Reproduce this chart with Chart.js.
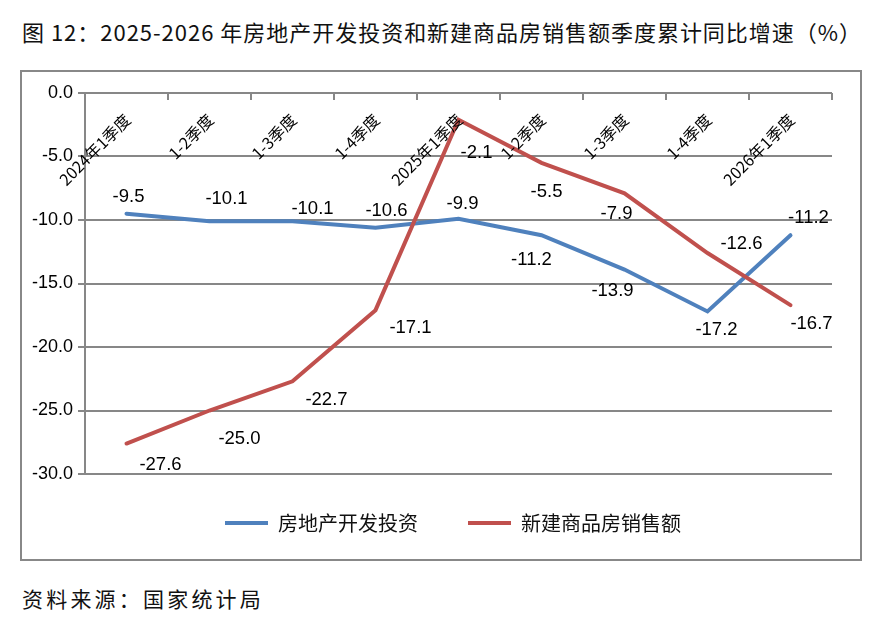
<!DOCTYPE html>
<html>
<head>
<meta charset="utf-8">
<script src="https://cdn.jsdelivr.net/npm/chart.js@4"></script>
<style>
  body { margin: 0; background: #fff; width: 882px; height: 624px; position: relative; overflow: hidden; }
  .txt { position: absolute; white-space: nowrap; font-family: "Noto Sans CJK SC", sans-serif; color: #111; }
  #title { left: 22px; top: 19px; font-size: 22px; line-height: 24px; }
  #source { left: 22px; top: 587px; font-size: 21px; line-height: 22px; }
  #box { position: absolute; left: 20px; top: 70px; width: 842px; height: 491px; box-sizing: border-box; border: 2px solid #888; }
  #wrap { position: relative; width: 838px; height: 487px; }
</style>
</head>
<body>
<div id="title" class="txt">图 12：2025-2026 年房地产开发投资和新建商品房销售额季度累计同比增速（%）</div>
<div id="box"><div id="wrap"><canvas id="chart-canvas"></canvas></div></div>
<div id="source" class="txt">资料来源：国家统计局</div>
<script>
const categories = ['2024年1季度', '1-2季度', '1-3季度', '1-4季度', '2025年1季度', '1-2季度', '1-3季度', '1-4季度', '2026年1季度']
const investName = '房地产开发投资'
const investValues = [-9.5, -10.1, -10.1, -10.6, -9.9, -11.2, -13.9, -17.2, -11.2]
const salesName = '新建商品房销售额'
const salesValues = [-27.6, -25.0, -22.7, -17.1, -2.1, -5.5, -7.9, -12.6, -16.7]
const yTicks = [0, -5, -10, -15, -20, -25, -30]

// label offsets from each point (px)
const investLabelShift = [[2, -17], [17, -22], [20, -12], [11, -17], [4, -15], [-10, 25], [-12, 21], [9, 18], [18, -17]]
const salesLabelShift = [[34, 21], [30, 28], [34, 19], [35, 18], [18, 33], [5, 29], [-8, 21], [34, -9], [21, 19]]

const gridColor = '#878787'
const blue = '#4F81BD'
const red = '#C0504D'

function fitWidth(el, target) {
  el.style.letterSpacing = '0px'
  const w = el.getBoundingClientRect().width
  const n = el.textContent.length
  el.style.letterSpacing = ((target - w) / n) + 'px'
}
fitWidth(document.getElementById('title'), 840)
fitWidth(document.getElementById('source'), 242)

const topAxisPlugin = {
  id: 'topAxis',
  afterLayout(chart) {
    // legend sits a little right of centre and tucked up in the original
    chart.legend.left += 26
    chart.legend.right += 26
    chart.legend.top -= 11
    chart.legend.bottom -= 11
  },
  afterDatasetsDraw(chart) {
    const ctx = chart.ctx
    const x = chart.scales.x
    const area = chart.chartArea
    const half = (x.getPixelForValue(1) - x.getPixelForValue(0)) / 2
    ctx.save()
    ctx.strokeStyle = gridColor
    ctx.lineWidth = 2
    for (let i = 0; i <= categories.length; i++) {
      const px = Math.round(x.getPixelForValue(i) - half)
      ctx.beginPath()
      ctx.moveTo(px, area.top)
      ctx.lineTo(px, area.top + 7)
      ctx.stroke()
    }
    ctx.fillStyle = '#000'
    ctx.font = '16px "Noto Sans CJK SC"'
    ctx.textAlign = 'right'
    ctx.textBaseline = 'middle'
    categories.forEach((c, i) => {
      ctx.save()
      ctx.translate(x.getPixelForValue(i) + 1, area.top + 24)
      ctx.rotate(-Math.PI / 4)
      ctx.fillText(c, 0, 0)
      ctx.restore()
    })
    // value labels
    ctx.font = '18.5px "Liberation Sans"'
    ctx.textAlign = 'center'
    const shifts = [investLabelShift, salesLabelShift]
    chart.data.datasets.forEach((ds, d) => {
      const meta = chart.getDatasetMeta(d)
      meta.data.forEach((pt, i) => {
        const s = shifts[d][i]
        ctx.fillText(ds.data[i].toFixed(1), pt.x + s[0], pt.y + s[1])
      })
    })
    ctx.restore()
  }
}

new Chart(document.getElementById('chart-canvas'), {
  type: 'line',
  data: {
    labels: categories,
    datasets: [
      { label: investName, data: investValues, borderColor: blue, backgroundColor: blue, borderWidth: 4, pointRadius: 0, tension: 0, order: 1, borderCapStyle: 'round' },
      { label: salesName, data: salesValues, borderColor: red, backgroundColor: red, borderWidth: 4, pointRadius: 0, tension: 0, order: 0, borderCapStyle: 'round' },
    ]
  },
  options: {
    responsive: true,
    maintainAspectRatio: false,
    animation: false,
    layout: { padding: { left: 0, right: 28, top: 21, bottom: 5 } },
    scales: {
      x: { display: false, offset: true },
      y: {
        min: -30, max: 0,
        afterBuildTicks: (s) => { s.ticks = yTicks.map(v => ({ value: v })) },
        afterFit: (s) => { s.width = 63 },
        grid: { color: gridColor, lineWidth: 2, tickLength: 7, tickColor: gridColor },
        border: { color: gridColor, width: 2 },
        ticks: { color: '#000', padding: 5, font: { family: 'Liberation Sans', size: 18 }, callback: v => v.toFixed(1) }
      }
    },
    plugins: {
      legend: {
        position: 'bottom',
        labels: {
          usePointStyle: true, pointStyle: 'line', pointStyleWidth: 43, padding: 50,
          color: '#111', font: { family: 'Noto Sans CJK SC', size: 20 },
          sort: (a, b) => a.datasetIndex - b.datasetIndex
        }
      },
      tooltip: { enabled: false }
    }
  },
  plugins: [topAxisPlugin]
})
</script>
</body>
</html>
